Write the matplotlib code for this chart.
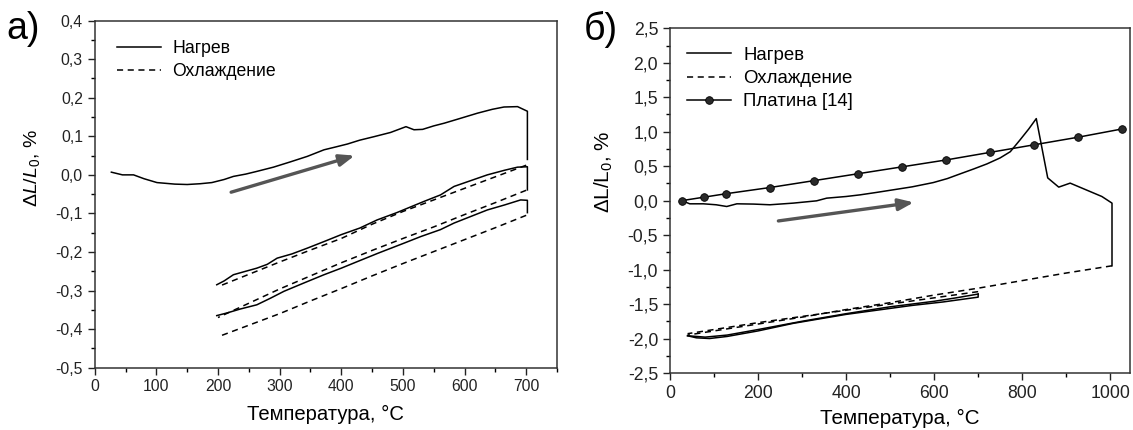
import matplotlib
matplotlib.use("Agg")
import matplotlib.pyplot as plt
from matplotlib.ticker import MultipleLocator, FuncFormatter

plt.rcParams['font.family'] = ['Liberation Sans', 'DejaVu Sans']
plt.rcParams['mathtext.fontset'] = 'custom'
plt.rcParams['mathtext.rm'] = 'Liberation Sans'
plt.rcParams['mathtext.it'] = 'Liberation Sans:italic'

# ---- panel a) ----
a_heat1_t = [27, 45, 63, 80, 101, 130, 150, 171, 190, 210, 225, 245, 263, 290, 318, 345, 372, 390, 410, 430,
             453, 480, 505, 518, 532, 550, 567, 590, 621, 645, 664, 686, 702, 702]
a_heat1_v = [0.007, 0.0, 0.0, -0.01, -0.02, -0.024, -0.025, -0.023, -0.02, -0.012, -0.004, 0.002, 0.009, 0.02,
             0.034, 0.048, 0.065, 0.072, 0.08, 0.09, 0.099, 0.11, 0.125, 0.117, 0.118, 0.127, 0.134, 0.145,
             0.16, 0.17, 0.176, 0.177, 0.165, 0.04]
a_cool1_t = [700, 650, 600, 550, 500, 450, 400, 350, 300, 250, 200]
a_cool1_v = [0.025, -0.005, -0.035, -0.065, -0.095, -0.128, -0.165, -0.195, -0.226, -0.258, -0.29]
a_heat2_t = [198, 210, 225, 245, 263, 280, 296, 320, 345, 372, 400, 430, 458, 490, 534, 561, 583, 610, 637,
             665, 686, 702, 702]
a_heat2_v = [-0.285, -0.275, -0.259, -0.25, -0.242, -0.232, -0.216, -0.205, -0.19, -0.173, -0.155, -0.138,
             -0.117, -0.098, -0.069, -0.052, -0.03, -0.015, 0.0, 0.012, 0.02, 0.021, -0.039]
a_cool2_t = [700, 650, 600, 550, 500, 450, 400, 350, 300, 250, 200]
a_cool2_v = [-0.04, -0.072, -0.103, -0.135, -0.165, -0.196, -0.228, -0.262, -0.296, -0.333, -0.37]
a_heat3_t = [198, 215, 236, 263, 285, 307, 340, 372, 400, 426, 460, 502, 529, 561, 583, 610, 637, 665, 691,
             702, 702]
a_heat3_v = [-0.365, -0.358, -0.348, -0.337, -0.32, -0.302, -0.28, -0.259, -0.242, -0.225, -0.203, -0.177,
             -0.16, -0.142, -0.125, -0.108, -0.091, -0.078, -0.065, -0.066, -0.098]
a_cool3_t = [700, 650, 600, 550, 500, 450, 400, 350, 300, 250, 200]
a_cool3_v = [-0.105, -0.137, -0.168, -0.199, -0.23, -0.262, -0.295, -0.327, -0.36, -0.39, -0.42]
a_arrow = [(217, -0.047), (426, 0.052)]

# ---- panel б) ----
b_heat1_t = [27, 45, 76, 105, 129, 152, 190, 227, 280, 333, 356, 400, 432, 470, 507, 550, 598, 630, 659, 690,
             720, 750, 773, 795, 815, 832, 858, 883, 909, 955, 981, 1004, 1004]
b_heat1_v = [0.0, -0.046, -0.046, -0.06, -0.085, -0.046, -0.05, -0.06, -0.036, -0.003, 0.036, 0.06, 0.084,
             0.12, 0.157, 0.2, 0.262, 0.32, 0.388, 0.46, 0.533, 0.62, 0.71, 0.88, 1.04, 1.19, 0.33, 0.196,
             0.254, 0.13, 0.06, -0.036, -0.945]
b_cool1_t = [1004, 900, 800, 700, 600, 500, 400, 300, 200, 100, 40]
b_cool1_v = [-0.945, -1.05, -1.16, -1.27, -1.37, -1.48, -1.58, -1.69, -1.79, -1.89, -1.95]
b_heat2_t = [40, 60, 90, 130, 200, 280, 400, 550, 620, 700, 700]
b_heat2_v = [-1.96, -1.99, -2.0, -1.97, -1.89, -1.78, -1.65, -1.52, -1.47, -1.40, -1.355]
b_cool2_t = [700, 600, 500, 400, 300, 200, 100, 40]
b_cool2_v = [-1.32, -1.41, -1.5, -1.59, -1.68, -1.77, -1.87, -1.93]
b_heat3_t = [40, 80, 130, 200, 300, 400, 500, 600, 650, 700]
b_heat3_v = [-1.96, -1.98, -1.95, -1.87, -1.75, -1.64, -1.54, -1.46, -1.41, -1.355]
b_pt_t = [27, 77, 127, 227, 327, 427, 527, 627, 727, 827, 927, 1027]
b_pt_v = [0.0, 0.05, 0.10, 0.19, 0.29, 0.39, 0.49, 0.59, 0.70, 0.81, 0.92, 1.04]
b_arrow = [(240, -0.30), (560, -0.02)]

fig = plt.figure(figsize=(11.33, 4.30), dpi=100)
ax1 = fig.add_axes([0.0836, 0.145, 0.408, 0.807])
ax2 = fig.add_axes([0.5913, 0.1326, 0.4061, 0.8016])

comma = FuncFormatter(lambda v, p: f'{round(v, 1) + 0.0:.1f}'.replace('.', ','))
intfmt = FuncFormatter(lambda v, p: f'{int(round(v))}')

lc = 'black'
lw = 1.1
dash = (0, (4, 3))

# panel a
ax1.plot(a_heat1_t, a_heat1_v, color=lc, lw=lw, label='Нагрев')
ax1.plot(a_cool1_t, a_cool1_v, color=lc, lw=lw, ls=dash, label='Охлаждение')
ax1.plot(a_heat2_t, a_heat2_v, color=lc, lw=lw)
ax1.plot(a_cool2_t, a_cool2_v, color=lc, lw=lw, ls=dash)
ax1.plot(a_heat3_t, a_heat3_v, color=lc, lw=lw)
ax1.plot(a_cool3_t, a_cool3_v, color=lc, lw=lw, ls=dash)
ax1.annotate('', xy=a_arrow[1], xytext=a_arrow[0],
             arrowprops=dict(arrowstyle='-|>,head_length=0.9,head_width=0.35', lw=2.4, color='#555555'))
ax1.set_xlim(0, 750)
ax1.set_ylim(-0.5, 0.4)
ax1.xaxis.set_major_locator(MultipleLocator(100))
ax1.xaxis.set_minor_locator(MultipleLocator(50))
ax1.yaxis.set_major_locator(MultipleLocator(0.1))
ax1.yaxis.set_minor_locator(MultipleLocator(0.05))
ax1.yaxis.set_major_formatter(comma)
ax1.xaxis.set_major_formatter(intfmt)
ax1.set_xlabel('Температура, °C', fontsize=14.6, labelpad=7.5)
ax1.set_ylabel(r'$\Delta\mathit{L/L}_0$, %', fontsize=14)
ax1.yaxis.set_label_coords(-0.115, 0.575)
ax1.legend(loc='upper left', bbox_to_anchor=(0.048, 0.944), frameon=False, fontsize=12.7,
           handlelength=2.5, handletextpad=0.65, labelspacing=0.35, borderpad=0, borderaxespad=0)
ax1.tick_params(which='major', labelsize=11.3)

# panel б
ax2.plot(b_heat1_t, b_heat1_v, color=lc, lw=lw, label='Нагрев')
ax2.plot(b_cool1_t, b_cool1_v, color=lc, lw=lw, ls=dash, label='Охлаждение')
ax2.plot(b_pt_t, b_pt_v, color=lc, lw=lw, marker='o', ms=5.5, mfc='#2a2a2a', mec='black', mew=0.6,
         label='Платина [14]')
ax2.plot(b_heat2_t, b_heat2_v, color=lc, lw=lw)
ax2.plot(b_cool2_t, b_cool2_v, color=lc, lw=lw, ls=dash)
ax2.plot(b_heat3_t, b_heat3_v, color=lc, lw=lw)
ax2.annotate('', xy=b_arrow[1], xytext=b_arrow[0],
             arrowprops=dict(arrowstyle='-|>,head_length=0.9,head_width=0.35', lw=2.4, color='#555555'))
ax2.set_xlim(0, 1045)
ax2.set_ylim(-2.5, 2.5)
ax2.xaxis.set_major_locator(MultipleLocator(200))
ax2.xaxis.set_minor_locator(MultipleLocator(100))
ax2.yaxis.set_major_locator(MultipleLocator(0.5))
ax2.yaxis.set_minor_locator(MultipleLocator(0.25))
ax2.yaxis.set_major_formatter(comma)
ax2.xaxis.set_major_formatter(intfmt)
ax2.set_xlabel('Температура, °C', fontsize=14.9, labelpad=5.5)
ax2.set_ylabel(r'$\Delta\mathrm{L/L}_0$, %', fontsize=14.9)
ax2.yaxis.set_label_coords(-0.12, 0.583)
ax2.legend(loc='upper left', bbox_to_anchor=(0.036, 0.946), frameon=False, fontsize=13.4,
           handlelength=2.4, handletextpad=0.65, labelspacing=0.33, borderpad=0, borderaxespad=0)
ax2.tick_params(which='major', labelsize=12.7)

for ax in (ax1, ax2):
    for s in ax.spines.values():
        s.set_linewidth(1.1)
        s.set_color('#333333')
    ax.tick_params(which='major', direction='out', length=5, width=1.0, colors='#222222')
    ax.tick_params(which='minor', direction='out', length=3, width=1.0)

fig.text(0.006, 0.975, 'а)', fontsize=27, va='top', ha='left')
fig.text(0.515, 0.975, 'б)', fontsize=27, va='top', ha='left')

plt.savefig('out.png', dpi=100)
